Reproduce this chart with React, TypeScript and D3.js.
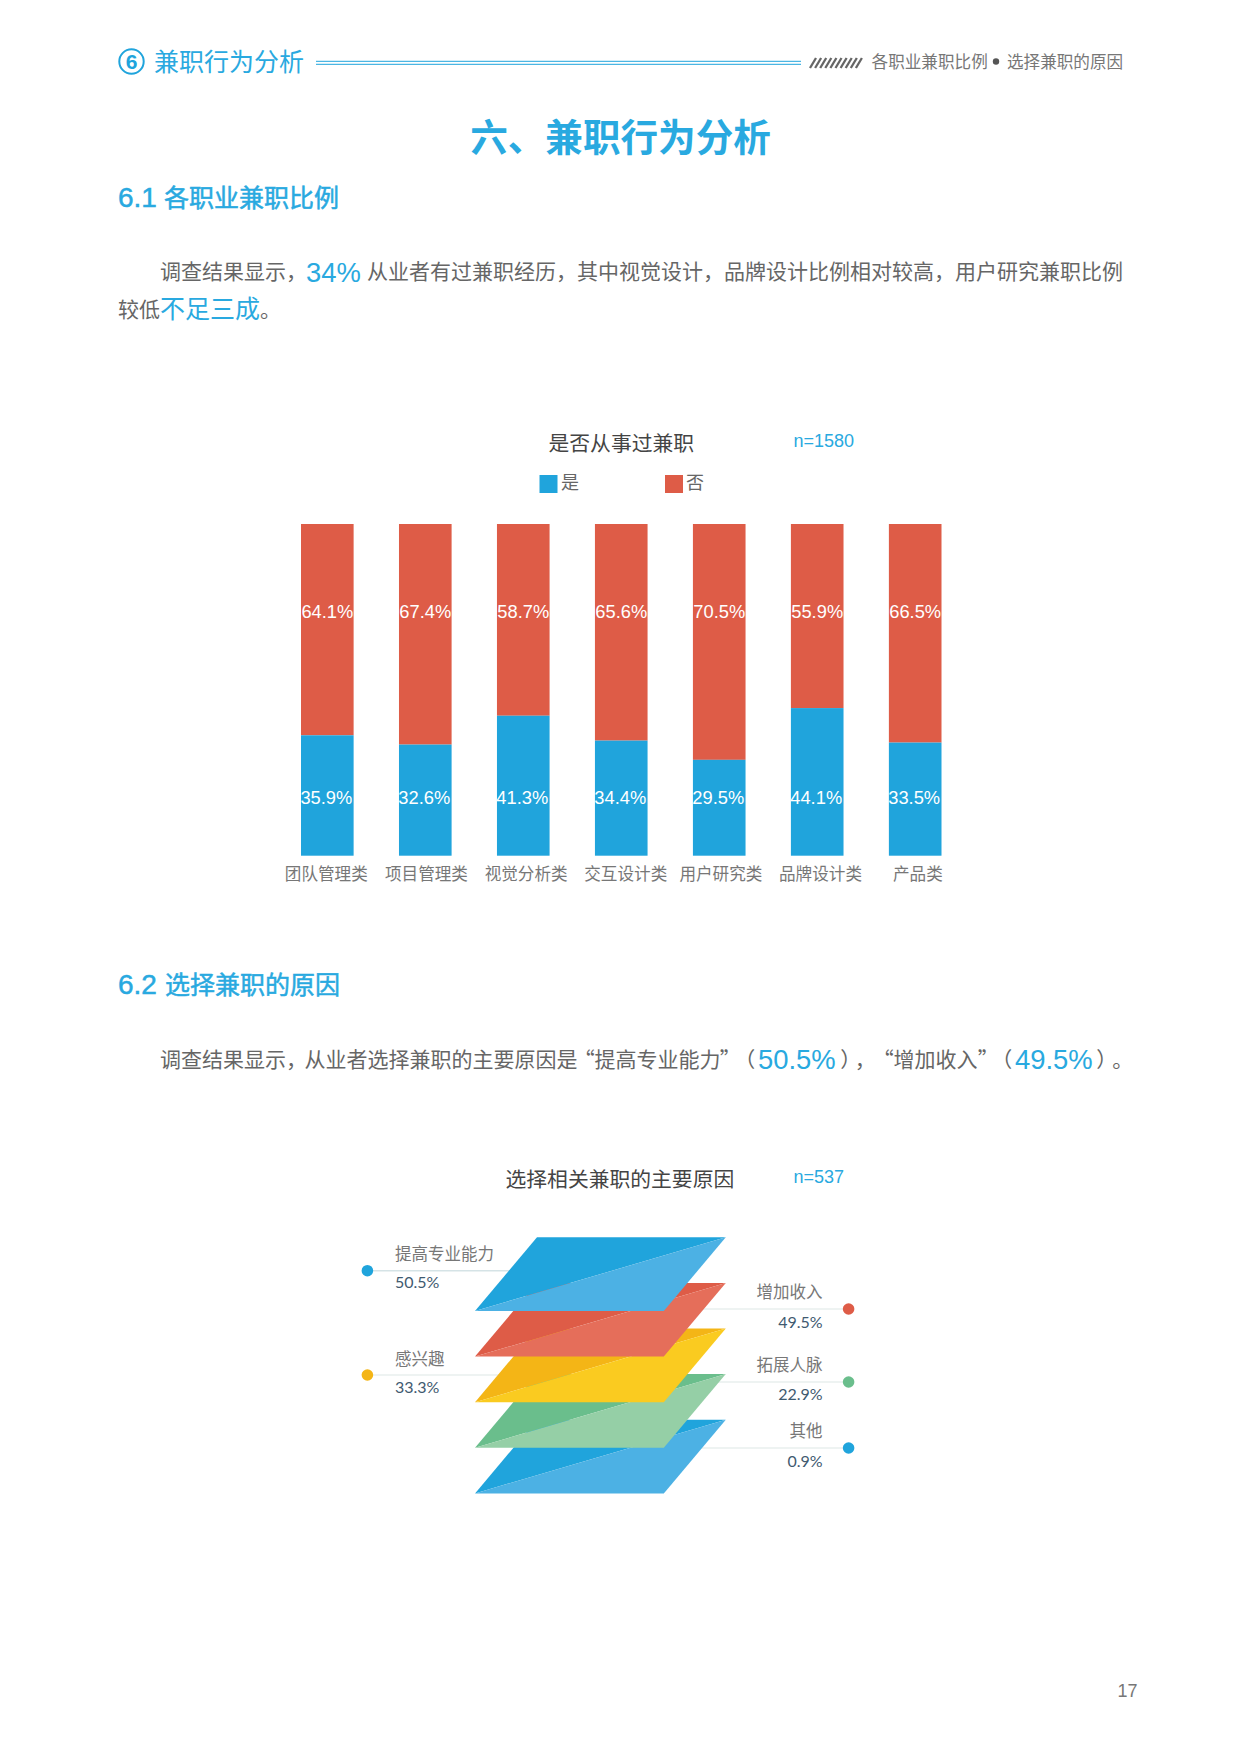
import * as d3 from "d3";

const CJK = "'Noto Sans CJK SC', sans-serif";
const LATIN = "'Liberation Sans', Arial, sans-serif";
const BLUE = "#20a4dc";
const TEXT_BLUE = "#29a9e0";

// stacked bars
const categories = ["团队管理类", "项目管理类", "视觉分析类", "交互设计类", "用户研究类", "品牌设计类", "产品类"];
const yesValues = [35.9, 32.6, 41.3, 34.4, 29.5, 44.1, 33.5];
const noValues = [64.1, 67.4, 58.7, 65.6, 70.5, 55.9, 66.5];
// the bars in the original don't quite follow their printed labels, these are read off the bar heights
const yesDrawn = [36.3, 33.5, 42.2, 34.7, 28.9, 44.5, 34.1];
const seriesNames = ["是", "否"];

// stacked planes
const reasons = ["提高专业能力", "增加收入", "感兴趣", "拓展人脉", "其他"];
const reasonValues = ["50.5%", "49.5%", "33.3%", "22.9%", "0.9%"];

const BAR = { left: 301, right: 941.5, top: 524, bottom: 855.7 };
// the category labels sit slightly off the bar centres in the original
const LABEL_NUDGE = [-1, 1.2, 2.9, 4.5, 1.7, 3.3, 2.7];

const PLANE = { left: 475, shift: 62, width: 188.8, height: 73.7, firstTop: 1237.3, step: 45.6 };
const PLANE_COLORS = [
  ["#20a4dc", "#4cb1e4"],
  ["#de5c47", "#e56e5a"],
  ["#f4b516", "#facb20"],
  ["#6abe8c", "#95cfa6"],
  ["#20a4dc", "#4cb1e4"],
];
const CALLOUTS = [
  { side: "left", y: 1270.7, lineEnd: 560, name: 1260, val: 1288 },
  { side: "right", y: 1309, lineEnd: 695, name: 1298, val: 1328 },
  { side: "left", y: 1375, lineEnd: 560, name: 1365, val: 1393 },
  { side: "right", y: 1382, lineEnd: 695, name: 1371, val: 1400 },
  { side: "right", y: 1448, lineEnd: 695, name: 1437, val: 1467 },
];

const Header = () => (
  <g>
    <circle cx={131.5} cy={61.5} r={12.2} fill="none" stroke={BLUE} strokeWidth={2} />
    <text x={131.5} y={69} textAnchor="middle" fontFamily={LATIN} fontWeight="bold" fontSize={21} fill={BLUE}>6</text>
    <text x={154} y={71} fontFamily={CJK} fontSize={25} fill={TEXT_BLUE}>兼职行为分析</text>
    <line x1={316} x2={801} y1={61.3} y2={61.3} stroke={BLUE} strokeWidth={1} />
    <line x1={316} x2={801} y1={64.3} y2={64.3} stroke={BLUE} strokeWidth={1} />
    {d3.range(10).map((i) => (
      <line key={i} x1={810 + i * 5.1} x2={816 + i * 5.1} y1={68} y2={58} stroke="#666" strokeWidth={2.3} />
    ))}
    <text x={871.6} y={68} fontFamily={CJK} fontSize={16.6} fill="#777">各职业兼职比例</text>
    <circle cx={996} cy={61.5} r={3.2} fill="#555" />
    <text x={1007} y={68} fontFamily={CJK} fontSize={16.6} fill="#777">选择兼职的原因</text>
    <text x={620.5} y={151} textAnchor="middle" fontFamily={CJK} fontWeight="bold" fontSize={37.6} fill={TEXT_BLUE}>六、兼职行为分析</text>
  </g>
);

const Body = () => {
  const para = { fontFamily: CJK, fontSize: 21, fill: "#666" };
  const hi = { fontFamily: LATIN, fontSize: 27.4, fill: TEXT_BLUE };
  const heading = { fontSize: 25, fontFamily: CJK, fill: TEXT_BLUE, stroke: TEXT_BLUE, strokeWidth: 0.5 };
  const headingNum = { fontSize: 28, fontFamily: LATIN, fill: TEXT_BLUE, stroke: TEXT_BLUE, strokeWidth: 0.5 };
  // proportional punctuation, so the marks can be placed close to their neighbours
  const punct = { style: { fontFeatureSettings: '"palt"' } };
  return (
    <g>
      <text x={118} y={207} {...headingNum}>6.1</text>
      <text x={164} y={207} {...heading}>各职业兼职比例</text>
      <text x={160} y={279} {...para}>调查结果显示，</text>
      <text x={306} y={282} {...hi}>34%</text>
      <text x={367} y={279} {...para}>从业者有过兼职经历，其中视觉设计，品牌设计比例相对较高，用户研究兼职比例</text>
      <text x={118} y={317} {...para}>较低</text>
      <text x={160} y={318} fontFamily={CJK} fontSize={25} fill={TEXT_BLUE}>不足三成</text>
      <text x={260} y={317} {...para}>。</text>

      <text x={118} y={994} {...headingNum}>6.2</text>
      <text x={165} y={994} {...heading}>选择兼职的原因</text>
      {/* one text with placed runs, the punctuation spacing differs from the font's own */}
      <text y={1067} {...para}>
        <tspan x={160}>调查结果显示，</tspan>
        <tspan x={304.5}>从业者选择兼职的主要原因是</tspan>
        <tspan x={584} {...punct}>“</tspan>
        <tspan x={594.5}>提高专业能力</tspan>
        <tspan x={720} {...punct}>”</tspan>
        <tspan x={744} {...punct}>（</tspan>
        <tspan x={758} y={1069} {...hi}>50.5%</tspan>
        <tspan x={841} y={1067} {...punct}>）</tspan>
        <tspan x={856} {...punct}>，</tspan>
        <tspan x={883} {...punct}>“</tspan>
        <tspan x={893.5}>增加收入</tspan>
        <tspan x={978} {...punct}>”</tspan>
        <tspan x={1001} {...punct}>（</tspan>
        <tspan x={1015} y={1069} {...hi}>49.5%</tspan>
        <tspan x={1097} y={1067} {...punct}>）</tspan>
        <tspan x={1112} {...punct}>。</tspan>
      </text>

      <text x={1127.5} y={1697} textAnchor="middle" fontFamily={LATIN} fontSize={18} fill="#777">17</text>
    </g>
  );
};

const StackedBars = () => {
  const x = d3.scaleBand().domain(categories).range([BAR.left, BAR.right]).paddingInner(0.463);
  const y = d3.scaleLinear().domain([0, 100]).range([BAR.bottom, BAR.top]);
  return (
    <g>
      <text x={548.5} y={451} fontFamily={CJK} fontSize={20.8} fill="#444">是否从事过兼职</text>
      <text x={793.5} y={447} fontFamily={LATIN} fontSize={18} fill={TEXT_BLUE}>n=1580</text>
      <rect x={539.5} y={475} width={18} height={18} fill={BLUE} />
      <text x={561} y={489} fontFamily={CJK} fontSize={18} fill="#666">{seriesNames[0]}</text>
      <rect x={665} y={475} width={18} height={18} fill="#de5c47" />
      <text x={686} y={489} fontFamily={CJK} fontSize={18} fill="#666">{seriesNames[1]}</text>

      {categories.map((c, i) => {
        const xPos = x(c) as number;
        const mid = xPos + x.bandwidth() / 2;
        return (
          <g key={c}>
            <rect x={xPos} y={y(100)} width={x.bandwidth()} height={y(yesDrawn[i]) - y(100)} fill="#de5c47" />
            <rect x={xPos} y={y(yesDrawn[i])} width={x.bandwidth()} height={y(0) - y(yesDrawn[i])} fill={BLUE} />
            <text x={mid} y={618} textAnchor="middle" fontFamily={LATIN} fontSize={18.3} fill="#fff">{noValues[i].toFixed(1)}%</text>
            <text x={mid - 1} y={804} textAnchor="middle" fontFamily={LATIN} fontSize={18.3} fill="#fff">{yesValues[i].toFixed(1)}%</text>
            <text x={mid + LABEL_NUDGE[i]} y={880} textAnchor="middle" fontFamily={CJK} fontSize={16.6} fill="#777">{c}</text>
          </g>
        );
      })}
    </g>
  );
};

const Planes = () => {
  const top = d3.scaleLinear().domain([0, 1]).range([PLANE.firstTop, PLANE.firstTop + PLANE.step]);
  const path = d3.line<[number, number]>().curve(d3.curveLinearClosed);
  return (
    <g>
      <text x={505.5} y={1187} fontFamily={CJK} fontSize={20.8} fill="#444">选择相关兼职的主要原因</text>
      <text x={793.5} y={1183} fontFamily={LATIN} fontSize={18} fill={TEXT_BLUE}>n=537</text>

      {reasons.map((r, i) => {
        const c = CALLOUTS[i];
        const left = c.side === "left";
        const dotX = left ? 367.4 : 848.6;
        const labelX = left ? 395 : 822.6;
        const anchor = left ? "start" : "end";
        return (
          <g key={r}>
            <line x1={dotX} x2={c.lineEnd} y1={c.y} y2={c.y} stroke={i === 0 ? "#d5e3e6" : "#eef3f2"} strokeWidth={i === 0 ? 1.4 : 2} />
            <circle cx={dotX} cy={c.y} r={5.8} fill={PLANE_COLORS[i][0]} />
            <text x={labelX} y={c.name} textAnchor={anchor} fontFamily={CJK} fontSize={16.5} fill="#777">{r}</text>
            <text x={labelX} y={c.val} textAnchor={anchor} fontFamily="Lato, sans-serif" fontSize={16} fill="#3f5a70">{reasonValues[i]}</text>
          </g>
        );
      })}

      {/* bottom plane first so the upper ones cover it */}
      {d3.range(reasons.length - 1, -1, -1).map((i) => {
        const t = top(i);
        const b = t + PLANE.height;
        const bl: [number, number] = [PLANE.left, b];
        const tl: [number, number] = [PLANE.left + PLANE.shift, t];
        const tr: [number, number] = [PLANE.left + PLANE.shift + PLANE.width, t];
        const br: [number, number] = [PLANE.left + PLANE.width, b];
        return (
          <g key={i}>
            <path d={path([bl, tl, tr]) as string} fill={PLANE_COLORS[i][0]} />
            <path d={path([bl, tr, br]) as string} fill={PLANE_COLORS[i][1]} />
          </g>
        );
      })}
    </g>
  );
};

export default function App() {
  return (
    <svg width={1240} height={1754} style={{ position: "absolute", left: 0, top: 0, background: "#fff" }}>
      <Header />
      <Body />
      <StackedBars />
      <Planes />
    </svg>
  );
}
